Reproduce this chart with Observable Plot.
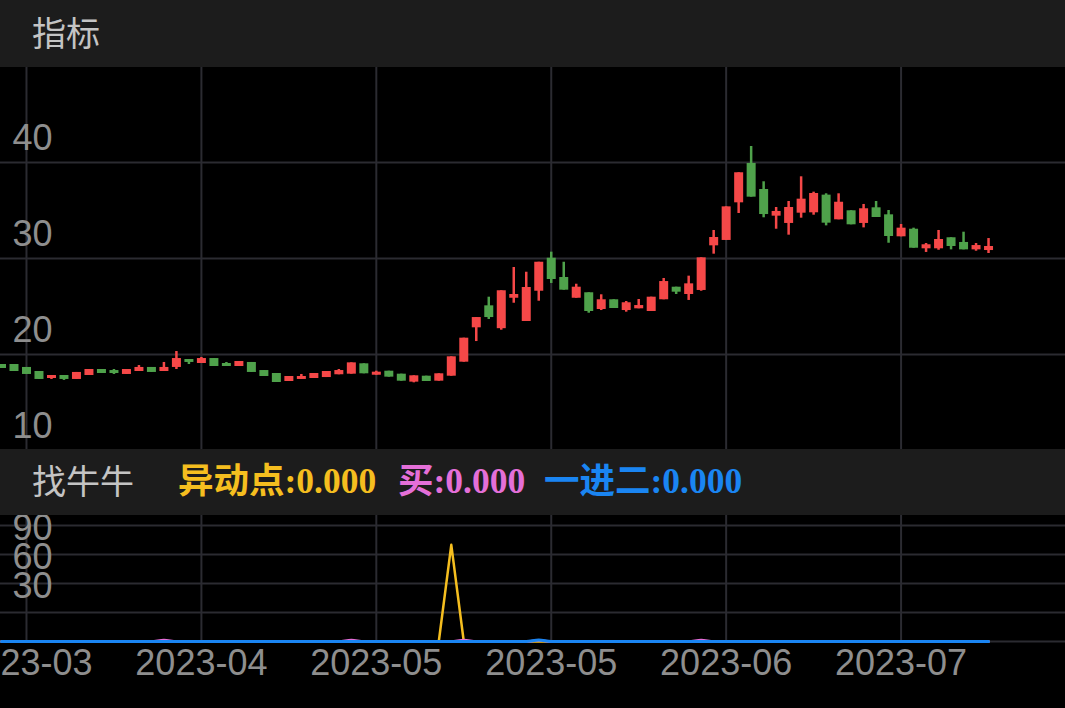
<!DOCTYPE html>
<html>
<head>
<meta charset="utf-8">
<script src="https://cdn.jsdelivr.net/npm/d3@7"></script>
<script src="https://cdn.jsdelivr.net/npm/@observablehq/plot@0.6"></script>
<style>
  html, body { margin: 0; padding: 0; background: #000; }
  #wrap { width: 1065px; overflow: hidden; }
  .hdr { position: relative; background: #1c1c1c; color: #c4c4c4;
         font-family: "Noto Sans CJK SC", sans-serif; font-size: 34px; }
  .hdr .t { position: absolute; left: 32px; top: 50%; transform: translateY(-56%); }
  .leg { position: absolute; top: 50%; transform: translateY(-58%); white-space: nowrap;
         font-family: "Liberation Serif", "Noto Sans CJK SC", serif; font-weight: bold; font-size: 35.5px; }
  svg { display: block; }
</style>
</head>
<body>
<div id="wrap">
  <div class="hdr" style="height:67px"><span class="t">指标</span></div>
  <div id="p1"></div>
  <div class="hdr" id="h2" style="height:66px"><span class="t">找牛牛</span></div>
  <div id="p2"></div>
</div>
<script>
// ---- candlestick data (index 0..79) ----
const opens  = [18.96,18.96,18.65,18.23,17.50,17.81,17.40,17.81,18.44,18.33,
                17.92,18.23,18.65,18.23,18.65,19.48,19.06,19.58,19.06,18.75,
                19.17,18.33,18.02,17.19,17.40,17.50,17.60,17.89,17.95,19.03,
                17.84,18.26,17.95,17.12,17.74,17.22,17.74,19.20,22.78,25.07,
                22.69,25.86,23.44,26.59,30.03,28.02,25.86,26.43,24.69,25.70,
                24.58,24.76,24.48,25.70,27.01,26.25,26.67,31.32,31.88,35.80,
                39.90,37.19,34.41,33.65,34.72,34.76,36.60,34.03,34.97,33.65,
                35.28,34.55,32.26,33.05,31.01,31.01,32.16,31.67,30.90,30.83];
const closes = [18.54,18.23,17.92,17.40,17.81,17.40,18.13,18.44,18.02,18.02,
                18.44,18.65,18.13,18.65,19.58,19.17,19.58,18.75,18.75,19.27,
                18.13,17.71,17.08,17.71,17.71,18.02,18.23,18.33,19.13,17.99,
                18.16,17.64,17.22,17.78,17.19,17.99,19.76,21.70,23.85,23.85,
                26.64,26.25,26.98,29.61,27.81,26.70,27.01,24.48,25.70,24.79,
                25.39,25.10,25.97,27.60,26.49,27.36,30.07,32.19,35.38,38.93,
                36.39,34.58,34.90,35.31,36.18,36.77,33.68,35.86,33.51,35.18,
                34.27,32.29,33.16,31.07,31.43,31.98,31.25,30.90,31.35,31.25];
const highs  = [18.96,18.96,18.65,18.23,17.81,17.81,18.13,18.44,18.44,18.44,
                18.44,18.85,18.65,19.17,20.31,19.48,19.69,19.58,19.17,19.27,
                19.17,18.33,18.02,17.71,17.92,18.02,18.23,18.44,19.13,19.03,
                18.26,18.26,17.95,17.78,17.74,17.99,19.76,21.70,23.85,25.97,
                26.64,29.06,28.57,29.61,30.66,29.61,27.32,26.43,26.22,25.70,
                25.52,25.73,25.97,27.92,27.01,28.16,30.07,32.92,35.38,38.93,
                41.67,37.99,35.31,35.94,38.51,36.91,36.74,36.74,34.97,35.63,
                35.94,35.00,33.54,33.16,31.56,32.92,32.16,32.74,31.56,32.08];
const lows   = [18.54,18.23,17.92,17.40,17.40,17.30,17.40,17.81,18.02,17.92,
                17.92,18.23,18.13,18.23,18.44,18.96,19.06,18.75,18.75,18.75,
                18.13,17.71,17.08,17.19,17.40,17.50,17.60,17.89,17.95,17.99,
                17.84,17.64,17.22,17.05,17.19,17.22,17.74,19.20,21.35,23.65,
                22.53,25.34,23.44,25.55,27.40,26.70,25.86,24.30,24.58,24.79,
                24.41,24.76,24.48,25.70,26.25,25.63,26.59,30.45,31.88,34.69,
                36.39,34.24,33.05,32.43,34.20,34.51,33.40,34.03,33.51,33.19,
                34.27,31.59,32.26,31.07,30.63,30.86,30.90,30.90,30.76,30.52];

// ---- indicator series (找牛牛) ----
const yidong = [0,0,0,0,0,0,0,0,0,0, 0,0,0,0,0,0,0,0,0,0, 0,0,0,0,0,0,0,0,0,0,
                0,0,0,0,0,0,100,0,0,0, 0,0,0,0,0,0,0,0,0,0, 0,0,0,0,0,0,0,0,0,0,
                0,0,0,0,0,0,0,0,0,0, 0,0,0,0,0,0,0,0,0,0];
const mai    = [0,0,0,0,0,0,0,0,0,0, 0,0,0,1.5,0,0,0,0,0,0, 0,0,0,0,0,0,0,0,1.5,0,
                0,0,0,0,0,0,0,1.5,0,0, 0,0,0,1.2,0,0,0,0,0,0, 0,0,0,0,0,0,1.5,0,0,0,
                0,0,0,0,0,0,0,0,0,0, 0,0,0,0,0,0,0,0,0,0];
const jinEr  = [0,0,0,0,0,0,0,0,0,0, 0,0,0,0,0,0,0,0,0,0, 0,0,0,0,0,0,0,0,0,0,
                0,0,0,0,0,0,0,0,0,0, 0,0,0,1.5,0,0,0,0,0,0, 0,0,0,0,0,0,0,0,0,0,
                0,0,0,0,0,0,0,0,0,0, 0,0,0,0,0,0,0,0,0,0];

// ---- axis ticks ----
const xTickIndex  = [2, 16, 30, 44, 58, 72];
const xTickLabels = ["2023-03", "2023-04", "2023-05", "2023-05", "2023-06", "2023-07"];
const priceTicks  = [10, 20, 30, 40];
const priceGrid   = [20, 30, 40];
const indTicks    = [30, 60, 90];
const indGrid     = [0, 30, 60, 90, 120];

const legendItems = [
  {name: "异动点", value: "0.000", color: "#f5be1f", left: 178},
  {name: "买",     value: "0.000", color: "#e46fd8", left: 398},
  {name: "一进二", value: "0.000", color: "#1a85f2", left: 544}
];

const RED = "#f54848", GREEN = "#4fa24b";
const YEL = "#f5be1f", PINK = "#e46fd8", BLUE = "#1a85f2";
const GRID = "#2b2b31", LABEL = "#8e8e8e";
const FONT = "'Liberation Sans', Arial, sans-serif";

const candles = opens.map((o, i) => ({i, open: o, close: closes[i], high: highs[i], low: lows[i]}));
const upC = candles.filter(d => d.close >= d.open);
const dnC = candles.filter(d => d.close < d.open);
const xTicks = xTickIndex.map((i, k) => ({i, label: xTickLabels[k]}));
const ind = opens.map((_, i) => ({i, a: yidong[i], b: mai[i], c: jinEr[i]}));

const xDomain = [-0.08, 85.16];

const p1 = Plot.plot({
  width: 1065, height: 382,
  marginTop: 0, marginBottom: 0, marginLeft: 0, marginRight: 0,
  style: {background: "#000", fontFamily: FONT},
  x: {domain: xDomain, axis: null},
  y: {domain: [10.104, 49.896], axis: null},
  marks: [
    Plot.ruleY(priceGrid, {stroke: GRID, strokeWidth: 2}),
    Plot.ruleX(xTickIndex, {stroke: GRID, strokeWidth: 2}),
    Plot.text(priceTicks, {y: d => d, text: d => String(d), frameAnchor: "left", dx: 12, dy: -24,
      textAnchor: "start", fill: LABEL, fontSize: 36}),
    Plot.ruleX(upC, {x: "i", y1: "low", y2: "high", stroke: RED, strokeWidth: 2.5}),
    Plot.ruleX(dnC, {x: "i", y1: "low", y2: "high", stroke: GREEN, strokeWidth: 2.5}),
    Plot.ruleX(upC, {x: "i", y1: "open", y2: "close", stroke: RED, strokeWidth: 9}),
    Plot.ruleX(dnC, {x: "i", y1: "open", y2: "close", stroke: GREEN, strokeWidth: 9})
  ]
});
document.getElementById("p1").appendChild(p1);

const p2 = Plot.plot({
  width: 1065, height: 193,
  marginTop: 0, marginBottom: 67, marginLeft: 0, marginRight: 0,
  style: {background: "#000", fontFamily: FONT},
  x: {domain: xDomain, axis: null},
  y: {domain: [0, 130.3], axis: null},
  marks: [
    Plot.ruleY(indGrid, {stroke: GRID, strokeWidth: 2}),
    Plot.ruleX(xTickIndex, {stroke: GRID, strokeWidth: 2}),
    Plot.text(indTicks, {y: d => d, text: d => String(d), frameAnchor: "left", dx: 12, dy: -26,
      textAnchor: "start", fill: LABEL, fontSize: 36}),
    Plot.line(ind, {x: "i", y: "a", stroke: YEL, strokeWidth: 2.5}),
    Plot.line(ind, {x: "i", y: "b", stroke: PINK, strokeWidth: 2.5, curve: "monotone-x"}),
    Plot.line(ind, {x: "i", y: "c", stroke: BLUE, strokeWidth: 3, curve: "monotone-x"}),
    Plot.text(xTicks, {x: "i", text: "label", frameAnchor: "bottom", dy: 33, fill: LABEL, fontSize: 36})
  ]
});
document.getElementById("p2").appendChild(p2);

const h2 = document.getElementById("h2");
for (const it of legendItems) {
  const s = document.createElement("span");
  s.className = "leg";
  s.style.left = it.left + "px";
  s.style.color = it.color;
  s.textContent = it.name + ":" + it.value;
  h2.appendChild(s);
}
</script>
</body>
</html>
